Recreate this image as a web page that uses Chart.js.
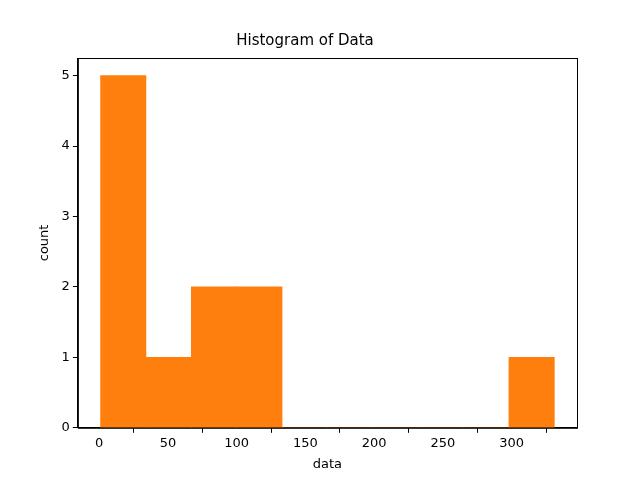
<!DOCTYPE html>
<html>
<head>
<meta charset="utf-8">
<script src="https://cdn.jsdelivr.net/npm/chart.js@4"></script>
<style>
  html, body { margin: 0; padding: 0; background: #fff; }
  #box { width: 640px; height: 480px; }
</style>
</head>
<body>
<div id="box"><canvas id="grafico"></canvas></div>
<script>
// bin edges and counts
const binEdges = [1, 34, 67, 100, 133, 166, 199, 232, 265, 298, 331];
const binCounts = [5, 1, 2, 2, 0, 0, 0, 0, 0, 1];
const xTicks = [0, 50, 100, 150, 200, 250, 300];
const yTicks = [0, 1, 2, 3, 4, 5];

const pontos = binCounts.map((c, i) => ({ x: (binEdges[i] + binEdges[i + 1]) / 2, y: c }));

// draw the full frame around the plot area like matplotlib
const moldura = {
  id: "moldura",
  afterDraw(chart) {
    const { ctx, chartArea: a } = chart;
    ctx.save();
    ctx.strokeStyle = "#000";
    ctx.lineWidth = 1;
    ctx.strokeRect(a.left + 0.5, a.top + 0.5, a.right - a.left, a.bottom - a.top);
    ctx.restore();
  },
};

const fonte = { family: "DejaVu Sans", size: 13 };

new Chart(document.getElementById("grafico"), {
  type: "bar",
  data: {
    datasets: [{
      data: pontos,
      backgroundColor: "#ff7f0e",
      borderWidth: 0,
      barPercentage: 1,
      categoryPercentage: 1,
    }],
  },
  plugins: [moldura],
  options: {
    responsive: true,
    maintainAspectRatio: false,
    animation: false,
    layout: { padding: { left: 33, right: 63, top: 8, bottom: 4 } },
    plugins: {
      legend: { display: false },
      tooltip: { enabled: false },
      title: {
        display: true,
        text: "Histogram of Data",
        color: "#000",
        font: { family: "DejaVu Sans", size: 15, weight: "normal" },
        padding: { top: 24, bottom: 8 },
      },
    },
    scales: {
      x: {
        type: "linear",
        offset: false,
        min: -15.5,
        max: 347.5,
        afterBuildTicks: (s) => { s.ticks = xTicks.map((v) => ({ value: v })); },
        ticks: { color: "#000", font: fonte, padding: 3 },
        grid: { display: true, drawOnChartArea: false, tickLength: 5, tickColor: "#000" },
        border: { color: "#000" },
        title: { display: true, text: "data", color: "#000", font: fonte, padding: { top: 2 } },
      },
      y: {
        min: 0,
        max: 5.25,
        afterBuildTicks: (s) => { s.ticks = yTicks.map((v) => ({ value: v })); },
        ticks: { color: "#000", font: fonte, padding: 3 },
        grid: { display: true, drawOnChartArea: false, tickLength: 5, tickColor: "#000" },
        border: { color: "#000" },
        title: { display: true, text: "count", color: "#000", font: fonte, padding: { bottom: 6 } },
      },
    },
  },
});
</script>
</body>
</html>
